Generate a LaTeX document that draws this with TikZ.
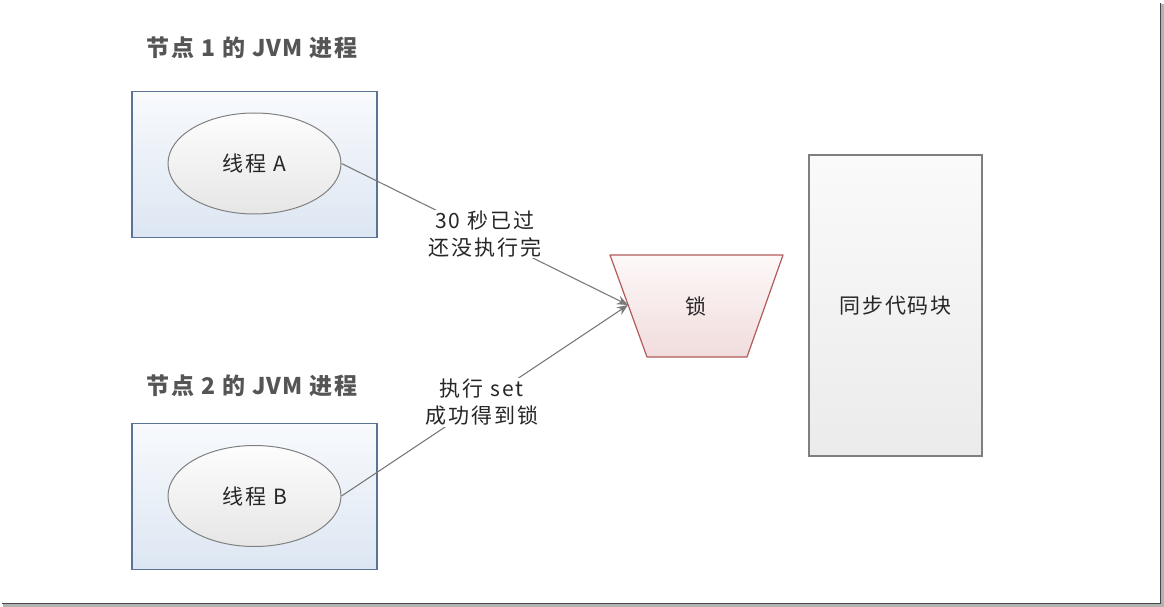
\documentclass[tikz,border=0pt]{standalone}
\usepackage{fontspec}
\setmainfont{Noto Sans CJK SC}
\newfontfamily\lab[LetterSpace=9]{Noto Sans CJK SC}
\newfontfamily\tit[LetterSpace=5]{Noto Sans CJK SC}
\usetikzlibrary{shapes.geometric,arrows.meta}
\definecolor{textc}{HTML}{262626}
\definecolor{titlec}{HTML}{555555}
\definecolor{procborder}{HTML}{5B7394}
\definecolor{proctop}{HTML}{F8FAFD}
\definecolor{procbot}{HTML}{DCE6F2}
\definecolor{ellborder}{HTML}{808080}
\definecolor{elltop}{HTML}{FDFDFD}
\definecolor{ellbot}{HTML}{E6E6E6}
\definecolor{lockborder}{HTML}{B35A5A}
\definecolor{locktop}{HTML}{FDF8F8}
\definecolor{lockbot}{HTML}{F1DCDC}
\definecolor{codeborder}{HTML}{7F7F7F}
\definecolor{codetop}{HTML}{FAFAFA}
\definecolor{codebot}{HTML}{EBEBEB}
\definecolor{linec}{HTML}{7A7A7A}
\newcommand{\wsp}{\hspace{7pt}}
\tikzset{
  proc/.style={draw=procborder, line width=1.2pt, top color=proctop, bottom color=procbot, minimum width=245pt, minimum height=146pt, inner sep=0pt},
  thread/.style={ellipse, draw=ellborder, line width=1pt, top color=elltop, bottom color=ellbot, minimum width=173pt, minimum height=101pt, inner sep=0pt, font=\lab\fontsize{21}{24}\selectfont, text=textc},
  title/.style={font=\tit\bfseries\fontsize{23}{26}\selectfont, text=titlec, inner sep=0pt},
  codebox/.style={draw=codeborder, line width=1.2pt, top color=codetop, bottom color=codebot, minimum width=173pt, minimum height=301pt, inner sep=0pt, font=\lab\fontsize{21}{24}\selectfont, text=textc},
  conn/.style={draw=linec, line width=1.1pt, -{Stealth[length=11pt,width=9pt]}},
  edgelab/.style={fill=white, inner sep=1pt, align=center, font=\lab\fontsize{21}{27}\selectfont, text=textc},
  locktext/.style={font=\lab\fontsize{21}{24}\selectfont, text=textc, inner sep=0pt}
}
\begin{document}
\begin{tikzpicture}[x=1pt, y=-1pt]
\useasboundingbox (0,0) rectangle (1164,607);
% frame
\draw[line width=3pt, gray!60] (3,605) -- (1162,605) -- (1162,4);
\draw[line width=1.8pt, black!72] (2,603.5) -- (1160.5,603.5) -- (1160.5,3);

\node[title] (t1) at (252,48) {节点\wsp 1\wsp 的\wsp JVM\wsp 进程};
\node[proc] (p1) at (254.5,164.5) {};
\node[thread] (A) at (254.5,163.5) {线程\wsp A};

\node[title] (t2) at (252,386) {节点\wsp 2\wsp 的\wsp JVM\wsp 进程};
\node[proc] (p2) at (254.5,496.5) {};
\node[thread] (B) at (254.5,496) {线程\wsp B};

% lock trapezoid
\coordinate (l1) at (610,255);
\coordinate (l2) at (783,255);
\coordinate (l3) at (747,357);
\coordinate (l4) at (647,357);
\shade[top color=locktop, bottom color=lockbot] (l1) -- (l2) -- (l3) -- (l4) -- cycle;
\draw[lockborder, line width=1.2pt, line join=round] (l1) -- (l2) -- (l3) -- (l4) -- cycle;
\node[locktext] (lock) at (696,306) {锁};
\coordinate (lockL) at (628,305);

\node[codebox] (code) at (895.5,305.5) {同步代码块};

\draw[conn] (A.east) -- node[edgelab, pos=0.5] (la) {30\wsp 秒已过\\还没执行完} (lockL);
\draw[conn] (B.east) -- node[edgelab, pos=0.49] (lb) {执行\wsp set\\成功得到锁} (lockL);
\end{tikzpicture}
\end{document}
